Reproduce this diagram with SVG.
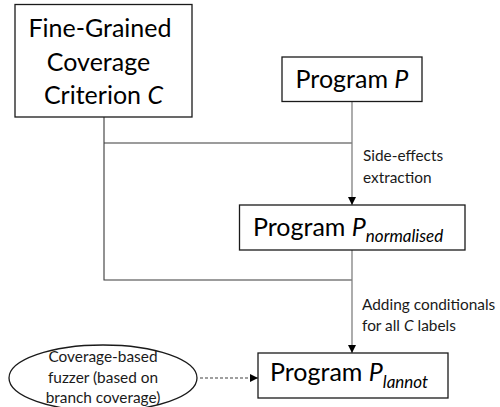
<svg xmlns="http://www.w3.org/2000/svg" width="500" height="407" viewBox="0 0 500 407">
  <defs>
    <style>
      .box { fill: #ffffff; stroke: #1a1a1a; stroke-width: 1.3; }
      .main { font-family: Lato, "Liberation Sans", sans-serif; font-size: 25px; fill: #000000; }
      .sub { font-size: 17px; font-style: italic; }
      .lbl { font-family: Lato, "Liberation Sans", sans-serif; font-size: 15.4px; fill: #1a1a1a; }
      .dark { fill: none; stroke: #3a3a3a; stroke-width: 1.1; }
      .grey { fill: none; stroke: #808080; stroke-width: 1.3; }
      .dash { fill: none; stroke: #808080; stroke-width: 1.3; stroke-dasharray: 3 2; }
    </style>
    <marker id="arrow" viewBox="0 0 10 10" refX="10" refY="5" markerWidth="8" markerHeight="8" markerUnits="userSpaceOnUse" orient="auto">
      <path d="M0,0 L10,5 L0,10 Z" fill="#000000"/>
    </marker>
  </defs>

  <g id="connectors">
    <path class="dark" d="M104,117 V280 H352"/>
    <path class="dark" d="M104,143 H352"/>
    <path class="grey" d="M352,102 V205" marker-end="url(#arrow)"/>
    <path class="grey" d="M352,250 V353" marker-end="url(#arrow)"/>
    <path class="dash" d="M200,378 H258" marker-end="url(#arrow)"/>
    <text class="lbl" x="363" y="161">Side-effects</text>
    <text class="lbl" x="363" y="183">extraction</text>
    <text class="lbl" x="362" y="310">Adding conditionals</text>
    <text class="lbl" x="362" y="331">for all <tspan font-style="italic">C</tspan> labels</text>
  </g>

  <g id="criterion">
    <rect class="box" x="15" y="4.5" width="177" height="112.5"/>
    <text class="main" text-anchor="middle" x="100" y="37">Fine-Grained</text>
    <text class="main" text-anchor="middle" x="98.5" y="70.5">Coverage</text>
    <text class="main" text-anchor="middle" x="103.5" y="104">Criterion <tspan font-style="italic">C</tspan></text>
  </g>

  <g id="program-p">
    <rect class="box" x="282" y="57" width="140" height="44.5"/>
    <text class="main" text-anchor="middle" x="352" y="88">Program <tspan font-style="italic">P</tspan></text>
  </g>

  <g id="program-normalised">
    <rect class="box" x="239.5" y="205" width="225.5" height="45"/>
    <text class="main" x="253" y="236">Program <tspan font-style="italic">P</tspan><tspan class="sub" dy="6">normalised</tspan></text>
  </g>

  <g id="program-lannot">
    <rect class="box" x="258" y="353" width="190" height="45"/>
    <text class="main" x="270" y="381">Program <tspan font-style="italic">P</tspan><tspan class="sub" dy="7">lannot</tspan></text>
  </g>

  <g id="fuzzer">
    <ellipse class="box" cx="103" cy="378" rx="94" ry="33"/>
    <text class="lbl" text-anchor="middle" x="103" y="362">Coverage-based</text>
    <text class="lbl" text-anchor="middle" x="103" y="383">fuzzer (based on</text>
    <text class="lbl" text-anchor="middle" x="103" y="403">branch coverage)</text>
  </g>
</svg>
